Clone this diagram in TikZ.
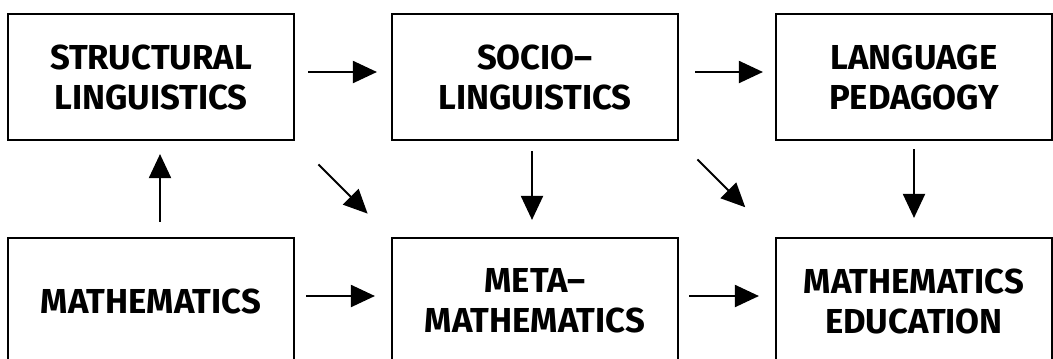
\documentclass[tikz,border=0pt]{standalone}
\usepackage{fontspec}
\setmainfont{Fira Sans}
\usetikzlibrary{arrows.meta}

\tikzset{
  field/.style={draw, line width=1.6pt, minimum width=214.5pt, minimum height=94.5pt,
    inner sep=0pt, align=center, font=\bfseries\fontsize{26}{30}\selectfont},
  flow/.style={-{Triangle[length=18pt,width=16.5pt]}, line width=1.5pt}
}

\begin{document}
\begin{tikzpicture}[x=0.75pt, y=-0.75pt]
            \useasboundingbox (0,0) rectangle (1053,358);
            % top row
            \node[field] (struct) at (151,77) {STRUCTURAL\\LINGUISTICS};
            \node[field] (socio) at (535,77) {SOCIO--\\LINGUISTICS};
            \node[field, minimum width=207pt] (peda) at (914,77) {LANGUAGE\\PEDAGOGY};
            % bottom row
            \node[field] (math) at (151,301) {MATHEMATICS};
            \node[field] (meta) at (535,301) {META--\\MATHEMATICS};
            \node[field, minimum width=207pt] (educ) at (914,301) {MATHEMATICS\\EDUCATION};
            % arrows
            \draw[flow, shorten <=9.75pt, shorten >=10.5pt] ([yshift=3.75pt]struct.east) -- ([yshift=3.75pt]socio.west);
            \draw[flow, shorten <=12pt, shorten >=9pt] ([yshift=3.75pt]socio.east) -- ([yshift=3.75pt]peda.west);
            \draw[flow, shorten <=8.25pt, shorten >=12pt] ([yshift=3.75pt]math.east) -- ([yshift=3.75pt]meta.west);
            \draw[flow, shorten <=7.5pt, shorten >=12pt] ([yshift=3.75pt]meta.east) -- ([yshift=3.75pt]educ.west);
            \draw[flow, shorten <=11.25pt, shorten >=9.75pt] ([xshift=6.75pt]math.north) -- ([xshift=6.75pt]struct.south);
            \draw[flow, shorten <=7.5pt, shorten >=12.75pt] ([xshift=-2.25pt]socio.south) -- ([xshift=-2.25pt]meta.north);
            \draw[flow, shorten <=6pt, shorten >=14.25pt] (peda.south) -- (educ.north);
            \draw[flow, shorten <=24.75pt, shorten >=24.75pt] (struct.south east) -- (meta.north west);
            \draw[flow, shorten <=19.5pt, shorten >=31.5pt] (socio.south east) -- (educ.north west);
        \end{tikzpicture}
\end{document}
